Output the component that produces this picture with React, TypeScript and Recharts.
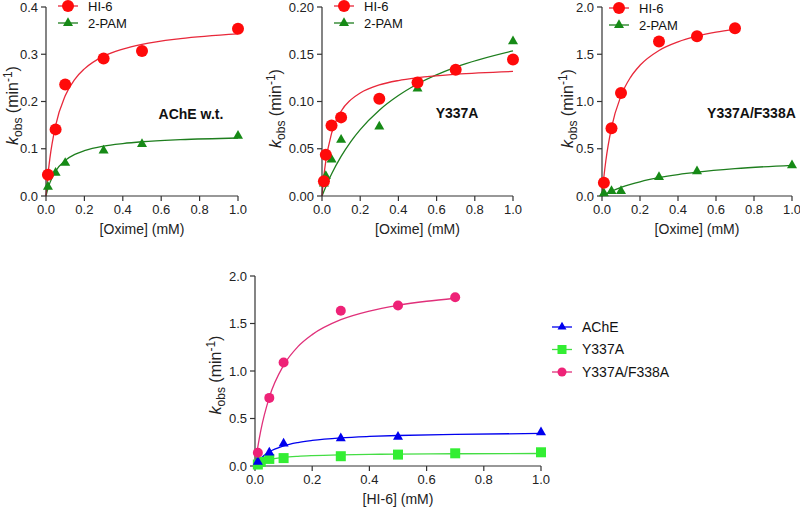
import React from "react";
import { ComposedChart, Line, Scatter, XAxis, YAxis, Legend, ReferenceDot } from "recharts";

const FONT = "Arial, 'Liberation Sans', Helvetica, sans-serif";

// x ticks shared by every panel
const xTicks = [0, 0.2, 0.4, 0.6, 0.8, 1.0];

// AChE w.t. (oxime mM -> kobs min^-1)
const wtX = [0.01, 0.05, 0.1, 0.3, 0.5, 1.0];
const wtHi6 = [0.045, 0.141, 0.236, 0.291, 0.307, 0.354];
const wtPam = [0.0195, 0.049, 0.07, 0.096, 0.11, 0.1275];

// Y337A
const y337Hi6X = [0.01, 0.02, 0.05, 0.1, 0.3, 0.5, 0.7, 1.0];
const y337Hi6 = [0.0157, 0.0437, 0.0745, 0.0832, 0.103, 0.12, 0.1336, 0.1444];
const y337PamX = [0.01, 0.02, 0.05, 0.1, 0.3, 0.5, 1.0];
const y337Pam = [0.013, 0.021, 0.0385, 0.0594, 0.0734, 0.1136, 0.1636];

// Y337A/F338A
const dblHi6X = [0.01, 0.05, 0.1, 0.3, 0.5, 0.7];
const dblHi6 = [0.14, 0.717, 1.09, 1.635, 1.69, 1.776];
const dblPamX = [0.01, 0.05, 0.1, 0.3, 0.5, 1.0];
const dblPam = [0.028, 0.052, 0.052, 0.2, 0.262, 0.325];

// fitted curves
const fitX = [0, 0.01, 0.02, 0.05, 0.1, 0.15, 0.2, 0.3, 0.4, 0.5, 0.7, 1.0];
const fitX07 = [0, 0.01, 0.02, 0.05, 0.1, 0.15, 0.2, 0.3, 0.4, 0.5, 0.6, 0.7];
const wtHi6Fit = [0, 0.044, 0.079, 0.149, 0.212, 0.247, 0.269, 0.296, 0.311, 0.321, 0.333, 0.343];
const wtPamFit = [0, 0.0155, 0.0278, 0.0528, 0.0754, 0.088, 0.096, 0.1056, 0.111, 0.1148, 0.1192, 0.1228];
const y337Hi6Fit = [0, 0.0214, 0.0371, 0.0662, 0.0897, 0.1017, 0.109, 0.1175, 0.1222, 0.1252, 0.1289, 0.1318];
const y337PamFit = [0, 0.0051, 0.0099, 0.0232, 0.0419, 0.0574, 0.0703, 0.0908, 0.1063, 0.1185, 0.1363, 0.1535];
const dblHi6Fit = [0, 0.204, 0.37, 0.723, 1.06, 1.256, 1.383, 1.54, 1.631, 1.691, 1.734, 1.766];
const dblPamFit = [0, 0.011, 0.0214, 0.05, 0.0901, 0.123, 0.1506, 0.194, 0.2267, 0.2522, 0.2893, 0.325];

const zip = (xs: number[], ys: number[]) => xs.map((x, i) => ({ x, y: ys[i] }));

const RED = "#ff0a0a";
const RED_LINE = "#e8283a";
const GREEN = "#168a16";
const GREEN_LINE = "#1e7e1e";
const BLUE = "#0000ee";
const LIME = "#33ee33";
const PINK = "#ee2277";

type Kind = "circle" | "triangle" | "square";

type Series = {
  name: string;
  pts: { x: number; y: number }[];
  fit: { x: number; y: number }[];
  color: string;
  lineColor: string;
  kind: Kind;
  size: number;
  legendSize: number;
};

function drawMark(kind: Kind, cx: number, cy: number, s: number, fill: string) {
  if (kind === "circle") return <circle cx={cx} cy={cy} r={s / 2} fill={fill} />;
  if (kind === "square") return <rect x={cx - s / 2} y={cy - s / 2} width={s} height={s} fill={fill} />;
  const h = s * 0.87;
  const pts = `${cx},${cy - (h * 2) / 3} ${cx - s / 2},${cy + h / 3} ${cx + s / 2},${cy + h / 3}`;
  return <polygon points={pts} fill={fill} />;
}

function LegendBox({ items, font, gap }: { items: Series[]; font: number; gap: number }) {
  return (
    <svg width={140} height={gap * items.length + 8} style={{ overflow: "visible" }}>
      {items.map((it, i) => {
        const y = 9 + i * gap;
        return (
          <g key={it.name}>
            <line x1={2} x2={22} y1={y} y2={y} stroke={it.lineColor} strokeWidth={1.3} />
            {drawMark(it.kind, 12, y, it.legendSize, it.color)}
            <text x={32} y={y} dy="0.35em" fontSize={font} fill="#111" fontFamily={FONT}>
              {it.name}
            </text>
          </g>
        );
      })}
    </svg>
  );
}

type PanelProps = {
  px: number; py: number; pw: number; ph: number;
  yMax: number; yTicks: number[]; yDigits: number;
  series: Series[];
  legendOrder: Series[];
  legendAt: { x: number; y: number };
  legendFont: number; legendGap: number;
  note?: { text: string; x: number; y: number; anchor: "middle" | "end" };
  xLabel: string;
  yLabelDx: number; yLabelDy: number;
  rightPad?: number;
};

function Panel(p: PanelProps) {
  const yw = 70;
  const left = p.px - yw;
  const top = p.py - 10;
  const right = p.rightPad ?? 15;
  const width = p.pw + yw + right;
  const height = p.ph + 10 + 50;

  const yLabel = (props: any) => {
    const vb = props.viewBox;
    const bx = vb.x + vb.width - p.yLabelDx;
    const cy = vb.y + vb.height / 2 + p.yLabelDy;
    return (
      <text transform={`translate(${bx},${cy}) rotate(-90)`} textAnchor="middle" fontSize={16} fill="#222" fontFamily={FONT}>
        <tspan fontStyle="italic">k</tspan>
        <tspan fontSize={12} dy={4}>obs</tspan>
        <tspan dy={-4}> (min</tspan>
        <tspan fontSize={12} dy={-6}>-1</tspan>
        <tspan dy={6}>)</tspan>
      </text>
    );
  };

  const xLabel = (props: any) => {
    const vb = props.viewBox;
    return (
      <text x={vb.x + vb.width / 2} y={vb.y + 38} textAnchor="middle" fontSize={14} fill="#222" fontFamily={FONT}>
        {p.xLabel}
      </text>
    );
  };

  const tick = { fill: "#222", fontSize: 13, fontFamily: FONT };

  return (
    <div style={{ position: "absolute", left, top }}>
      <ComposedChart width={width} height={height} margin={{ top: 10, right, bottom: 0, left: 0 }}>
        <XAxis
          type="number"
          dataKey="x"
          domain={[0, 1]}
          ticks={xTicks}
          tickFormatter={(v: number) => v.toFixed(1)}
          height={50}
          tickSize={5}
          tickMargin={4}
          axisLine={{ stroke: "#333", strokeWidth: 1.2 }}
          tickLine={{ stroke: "#333", strokeWidth: 1.2 }}
          tick={tick}
          label={{ content: xLabel }}
        />
        <YAxis
          type="number"
          dataKey="y"
          domain={[0, p.yMax]}
          ticks={p.yTicks}
          tickFormatter={(v: number) => v.toFixed(p.yDigits)}
          width={yw}
          tickSize={5}
          tickMargin={3}
          axisLine={{ stroke: "#333", strokeWidth: 1.2 }}
          tickLine={{ stroke: "#333", strokeWidth: 1.2 }}
          tick={tick}
          label={{ content: yLabel }}
        />
        {p.series.map((s) => (
          <Line
            key={s.name + "-fit"}
            data={s.fit}
            dataKey="y"
            type="monotone"
            stroke={s.lineColor}
            strokeWidth={1.3}
            dot={false}
            activeDot={false}
            legendType="none"
            isAnimationActive={false}
          />
        ))}
        {p.series.map((s) => (
          <Scatter
            key={s.name}
            name={s.name}
            data={s.pts}
            fill={s.color}
            shape={(sp: any) => drawMark(s.kind, sp.cx, sp.cy, s.size, s.color)}
            isAnimationActive={false}
          />
        ))}
        {p.note && (
          <ReferenceDot
            x={p.note.x}
            y={p.note.y}
            r={1}
            fill="none"
            stroke="none"
            ifOverflow="visible"
            label={{
              content: (lp: any) => {
                const vb = lp.viewBox;
                return (
                  <text
                    x={vb.x + vb.width / 2}
                    y={vb.y + vb.height / 2}
                    dy="0.35em"
                    textAnchor={p.note!.anchor}
                    fontSize={14}
                    fontWeight="bold"
                    fill="#111"
                    fontFamily={FONT}
                  >
                    {p.note!.text}
                  </text>
                );
              },
            }}
          />
        )}
        <Legend
          layout="vertical"
          align="center"
          verticalAlign="middle"
          wrapperStyle={{ left: p.legendAt.x - left, top: p.legendAt.y - 9 - top, width: 140 }}
          content={() => <LegendBox items={p.legendOrder} font={p.legendFont} gap={p.legendGap} />}
        />
      </ComposedChart>
    </div>
  );
}

const mk = (
  name: string, xs: number[], ys: number[], fx: number[], fy: number[],
  color: string, lineColor: string, kind: Kind, size: number, legendSize: number
): Series => ({ name, pts: zip(xs, ys), fit: zip(fx, fy), color, lineColor, kind, size, legendSize });

export default function App() {
  const wt = [
    mk("2-PAM", wtX, wtPam, fitX, wtPamFit, GREEN, GREEN_LINE, "triangle", 10, 10),
    mk("HI-6", wtX, wtHi6, fitX, wtHi6Fit, RED, RED_LINE, "circle", 12, 12),
  ];
  const y337 = [
    mk("2-PAM", y337PamX, y337Pam, fitX, y337PamFit, GREEN, GREEN_LINE, "triangle", 10, 10),
    mk("HI-6", y337Hi6X, y337Hi6, fitX, y337Hi6Fit, RED, RED_LINE, "circle", 12, 12),
  ];
  const dbl = [
    mk("2-PAM", dblPamX, dblPam, fitX, dblPamFit, GREEN, GREEN_LINE, "triangle", 10, 10),
    mk("HI-6", dblHi6X, dblHi6, fitX07, dblHi6Fit, RED, RED_LINE, "circle", 12, 12),
  ];
  const hi6 = [
    mk("Y337A", y337Hi6X, y337Hi6, fitX, y337Hi6Fit, LIME, "#44dd44", "square", 10, 9),
    mk("AChE", wtX, wtHi6, fitX, wtHi6Fit, BLUE, BLUE, "triangle", 10, 9),
    mk("Y337A/F338A", dblHi6X, dblHi6, fitX07, dblHi6Fit, PINK, "#e0307a", "circle", 10, 9),
  ];

  return (
    <div style={{ position: "absolute", left: 0, top: 0, width: 800, height: 509, overflow: "hidden", background: "#fff" }}>
      <Panel
        px={46} py={7} pw={192} ph={189}
        yMax={0.4} yTicks={[0, 0.1, 0.2, 0.3, 0.4]} yDigits={1}
        series={wt} legendOrder={[wt[1], wt[0]]}
        legendAt={{ x: 56, y: 6 }} legendFont={13} legendGap={17}
        note={{ text: "AChE w.t.", x: 0.755, y: 0.174, anchor: "middle" }}
        xLabel="[Oxime] (mM)" yLabelDx={28} yLabelDy={4}
      />
      <Panel
        px={322} py={7} pw={191} ph={189}
        yMax={0.2} yTicks={[0, 0.05, 0.1, 0.15, 0.2]} yDigits={2}
        series={y337} legendOrder={[y337[1], y337[0]]}
        legendAt={{ x: 332, y: 6 }} legendFont={13} legendGap={17}
        note={{ text: "Y337A", x: 0.707, y: 0.0874, anchor: "middle" }}
        xLabel="[Oxime] (mM)" yLabelDx={41} yLabelDy={7}
      />
      <Panel
        px={602} py={7} pw={190} ph={189}
        yMax={2} yTicks={[0, 0.5, 1, 1.5, 2]} yDigits={1}
        series={dbl} legendOrder={[dbl[1], dbl[0]]}
        legendAt={{ x: 607, y: 8 }} legendFont={13} legendGap={17}
        note={{ text: "Y337A/F338A", x: 1.02, y: 0.874, anchor: "end" }}
        xLabel="[Oxime] (mM)" yLabelDx={29} yLabelDy={7} rightPad={12}
      />
      <Panel
        px={255} py={276} pw={286} ph={190}
        yMax={2} yTicks={[0, 0.5, 1, 1.5, 2]} yDigits={1}
        series={hi6} legendOrder={[hi6[1], hi6[0], hi6[2]]}
        legendAt={{ x: 550, y: 327 }} legendFont={14} legendGap={22.5}
        xLabel="[HI-6] (mM)" yLabelDx={34} yLabelDy={4} rightPad={160}
      />
    </div>
  );
}
